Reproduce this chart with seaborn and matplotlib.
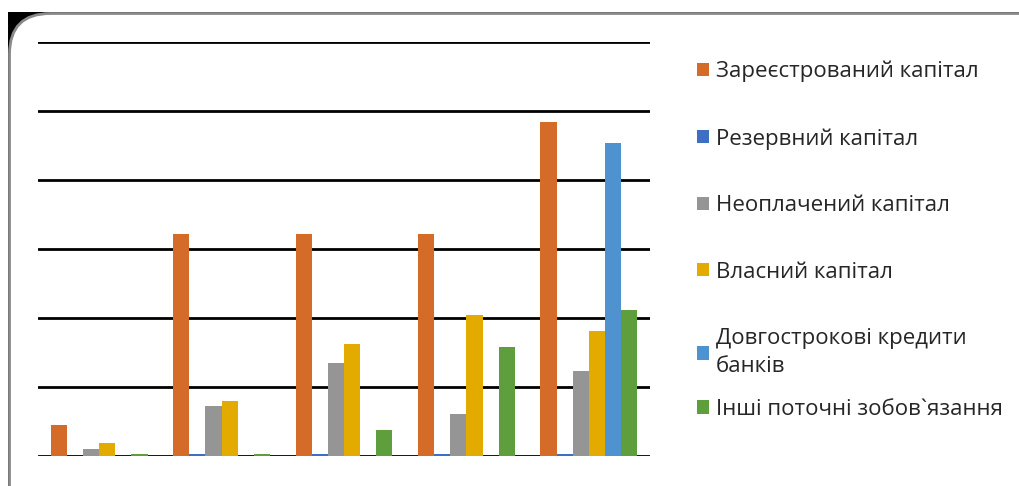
import matplotlib
matplotlib.use("Agg")
import matplotlib.pyplot as plt
import matplotlib.patches as mpatches
import seaborn as sns
import pandas as pd

groups = ["1", "2", "3", "4", "5"]
series = ["Зареєстрований капітал", "Резервний капітал", "Неоплачений капітал",
          "Власний капітал", "Довгострокові кредити\nбанків", "Інші поточні зобов`язання"]
zareestr = [45, 322, 322, 322, 484]
rezerv = [0, 2.5, 2.5, 2.5, 2.5]
neoplach = [10, 72, 135, 61, 123]
vlasnyi = [19, 80, 162, 204, 181]
dovgostr = [0, 0, 0, 0, 454]
inshi = [2.5, 2.5, 38, 158, 212]
colors = ["#D46B29", "#3F6FC0", "#959595", "#E3AA00", "#4E92CF", "#5F9E3C"]

values = [zareestr, rezerv, neoplach, vlasnyi, dovgostr, inshi]
rows = []
for s, vals in zip(series, values):
    for g, v in zip(groups, vals):
        rows.append({"group": g, "series": s, "value": v})
df = pd.DataFrame(rows)

sns.set_theme(style="white")
plt.rcParams["font.family"] = ["Open Sans", "DejaVu Sans"]

fig = plt.figure(figsize=(10.2, 4.86), dpi=100)
W, H = 1020, 486

# frame background
fig.patches.append(mpatches.Rectangle((8 / W, 0), 1, 1 - 12 / H, transform=fig.transFigure,
                                      facecolor="black", edgecolor="none", zorder=0))
fig.patches.append(mpatches.FancyBboxPatch((9.5 / W, -0.2), 1.2, 1 - 13.5 / H + 0.2,
                                           boxstyle="round,pad=0,rounding_size=0.04",
                                           transform=fig.transFigure, facecolor="white",
                                           edgecolor="#8a8a8a", linewidth=2, zorder=0.5,
                                           mutation_aspect=W / H))

ax = fig.add_axes([38 / W, 1 - 456 / H, (650 - 38) / W, (456 - 42) / H])
ax.set_zorder(2)
ax.patch.set_alpha(0)
sns.barplot(data=df, x="group", y="value", hue="series", palette=colors,
            width=0.79, linewidth=0, saturation=1, ax=ax, legend=False, zorder=3)
ax.set_ylim(0, 600)
ax.set_xlim(-0.5, 4.5)
ax.set_yticks([0, 100, 200, 300, 400, 500, 600])
ax.yaxis.grid(True, color="black", linewidth=2)
ax.set_axisbelow(True)
for sp in ax.spines.values():
    sp.set_visible(False)
ax.set_xticks([])
ax.set_yticklabels([])
ax.tick_params(left=False, bottom=False)
ax.set_xlabel("")
ax.set_ylabel("")

handles = [mpatches.Patch(facecolor=c, edgecolor="none") for c in colors]
common = dict(frameon=False, fontsize=16, handlelength=0.55, handleheight=0.55,
              handletextpad=0.3, loc="upper left")
leg1 = fig.legend(handles[:5], series[:5], bbox_to_anchor=(677 / W, 1 - 41 / H),
                  labelspacing=2.05, **common)
for t in leg1.get_texts():
    t.set_linespacing(1.45)
leg1.set_zorder(3)
leg2 = fig.legend(handles[5:], series[5:], bbox_to_anchor=(677 / W, 1 - 379 / H), **common)
leg2.set_zorder(3)

fig.savefig("out.png", dpi=100)
